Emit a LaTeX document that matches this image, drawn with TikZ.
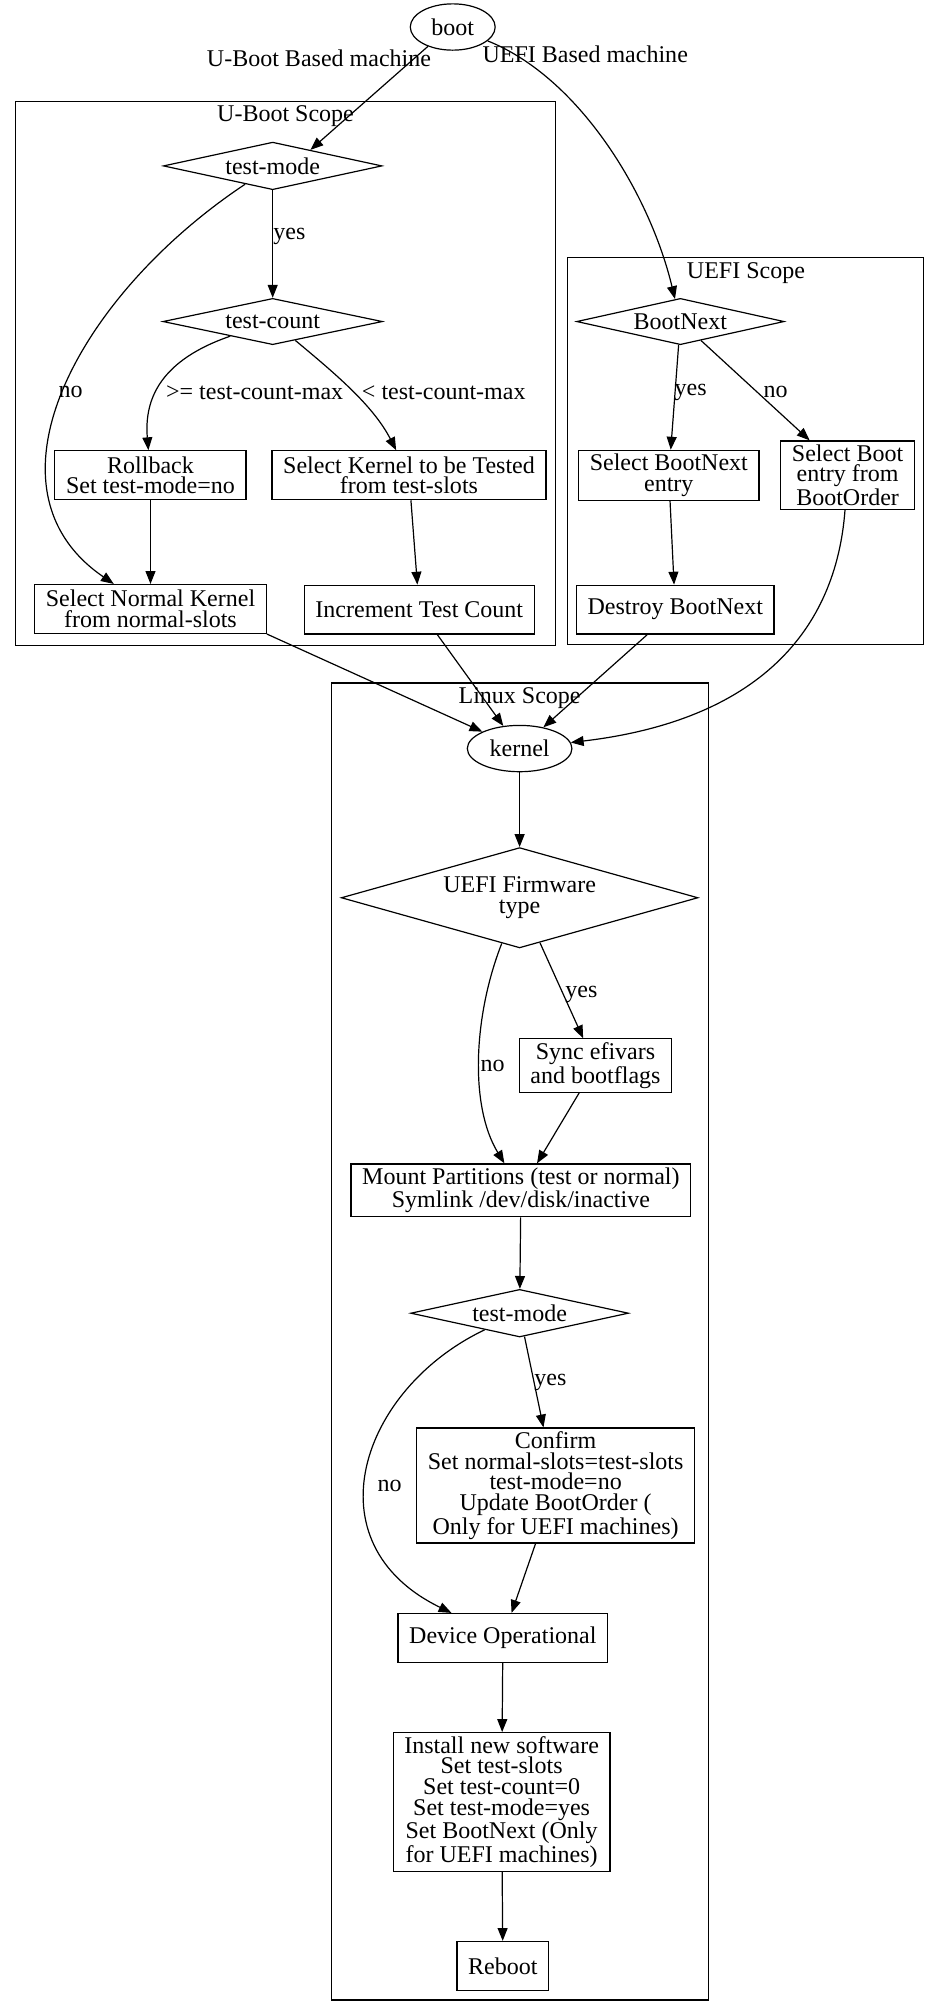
\documentclass[tikz,border=0pt]{standalone}
\usepackage{fontspec}
\setmainfont{Liberation Serif}
\usetikzlibrary{shapes.geometric,arrows.meta}

\begin{document}
\begin{tikzpicture}[x=0.75pt, y=-0.75pt, line width=0.7pt,
    font=\fontsize{14}{12}\selectfont,
    >={Triangle[length=7.5pt,width=5.8pt]},
    stepbox/.style={draw, rectangle, align=center, inner xsep=6.5pt, inner ysep=2.2pt, minimum height=28.5pt},
    decision/.style={draw, diamond, align=center, inner sep=0pt, shape aspect=4.6},
    terminal/.style={draw, ellipse, inner sep=0pt, minimum height=27pt},
    flow/.style={->}
]
\useasboundingbox (0,0) rectangle (728,1562);

% --- Start ---
\node[terminal, minimum width=49.5pt] (boot) at (352,21) {boot};

% --- U-Boot Scope ---
\draw (12,79) rectangle (432,502);
\node (ubootlbl) at (222,90) {U-Boot Scope};
\node[decision, minimum width=127.5pt, minimum height=27.75pt] (ubmode) at (212,129) {test-mode};
\node[decision, minimum width=128pt, minimum height=27pt] (ubcount) at (212,250) {test-count};
\node[stepbox] (rollback) at (117,369.5) {Rollback\\Set test-mode=no};
\node[stepbox] (seltest) at (318,369.5) {Select Kernel to be Tested\\from test-slots};
\node[stepbox] (selnormal) at (117,473.5) {Select Normal Kernel\\from normal-slots};
\node[stepbox] (inccount) at (326,474) {Increment Test Count};

% --- UEFI Scope ---
\draw (441,200) rectangle (718,501);
\node (uefilbl) at (580,212) {UEFI Scope};
\node[decision, minimum width=121pt, minimum height=27pt] (bootnext) at (529,250) {BootNext};
\node[stepbox] (selnext) at (520,369.5) {Select BootNext\\entry};
\node[stepbox] (selorder) at (659,369.5) {Select Boot\\entry from\\BootOrder};
\node[stepbox] (destroy) at (525,474) {Destroy BootNext};

% --- Linux Scope ---
\draw (258,531) rectangle (551,1555);
\node (linuxlbl) at (404,543) {Linux Scope};
\node[terminal, minimum width=61pt] (kernel) at (404,582) {kernel};
\node[decision, minimum width=208pt, minimum height=58.5pt] (fwtype) at (404,698) {UEFI Firmware\\type};
\node[stepbox] (sync) at (463,828.5) {Sync efivars\\and bootflags};
\node[stepbox] (mount) at (405,925.5) {Mount Partitions (test or normal)\\Symlink /dev/disk/inactive};
\node[decision, minimum width=127pt, minimum height=27.75pt] (lxmode) at (404,1021) {test-mode};
\node[stepbox] (confirm) at (432,1155) {Confirm\\Set normal-slots=test-slots\\test-mode=no\\Update BootOrder (\\Only for UEFI machines)};
\node[stepbox] (operational) at (391,1273.5) {Device Operational};
\node[stepbox] (install) at (390,1401) {Install new software\\Set test-slots\\Set test-count=0\\Set test-mode=yes\\Set BootNext (Only\\for UEFI machines)};
\node[stepbox] (reboot) at (391,1528.5) {Reboot};

% --- Kanten Boot ---
\draw[flow] (boot.218) -- (ubmode.23);
\draw[flow] (boot) .. controls (450,60) and (505,150) .. (bootnext);
\draw[flow] (ubmode) -- (ubcount);
\draw[flow] (ubmode) .. controls (60,230) and (-20,380) .. (selnormal);
\draw[flow] (ubcount) .. controls (125,280) and (112,310) .. (rollback);
\draw[flow] (ubcount) .. controls (260,290) and (290,315) .. (seltest);
\draw[flow] (rollback) -- (selnormal);
\draw[flow] (seltest) -- (inccount);
\draw[flow] (bootnext) -- (selnext);
\draw[flow] (bootnext) -- (selorder);
\draw[flow] (selnext) -- (destroy);

% --- Kanten zum Kernel ---
\draw[flow] (selnormal.south east) -- (kernel);
\draw[flow] (inccount) -- (kernel);
\draw[flow] (destroy) -- (kernel);
\draw[flow] (selorder) .. controls (650,490) and (590,560) .. (kernel);

% --- Kanten Linux ---
\draw[flow] (kernel) -- (fwtype);
\draw[flow] (fwtype) -- (sync);
\draw[flow] (fwtype) .. controls (368,790) and (365,860) .. (mount);
\draw[flow] (sync) -- (mount);
\draw[flow] (mount) -- (lxmode);
\draw[flow] (lxmode) -- (confirm);
\draw[flow] (lxmode) .. controls (280,1080) and (240,1200) .. (operational);
\draw[flow] (confirm) -- (operational);
\draw[flow] (operational) -- (install);
\draw[flow] (install) -- (reboot);

% --- Beschriftungen ---
\node (lbuboot) at (248,45) {U-Boot Based machine};
\node (lbuefi) at (455,42) {UEFI Based machine};
\node (lbyes1) at (225,184) {yes};
\node (lbno1) at (55,305) {no};
\node (lbge) at (198,305) {>= test-count-max};
\node (lblt) at (345,305) {< test-count-max};
\node (lbyes2) at (537,305) {yes};
\node (lbno2) at (603,305) {no};
\node (lbyes3) at (452,773) {yes};
\node (lbno3) at (383,829) {no};
\node (lbyes4) at (428,1075) {yes};
\node (lbno4) at (303,1155) {no};

\end{tikzpicture}
\end{document}
